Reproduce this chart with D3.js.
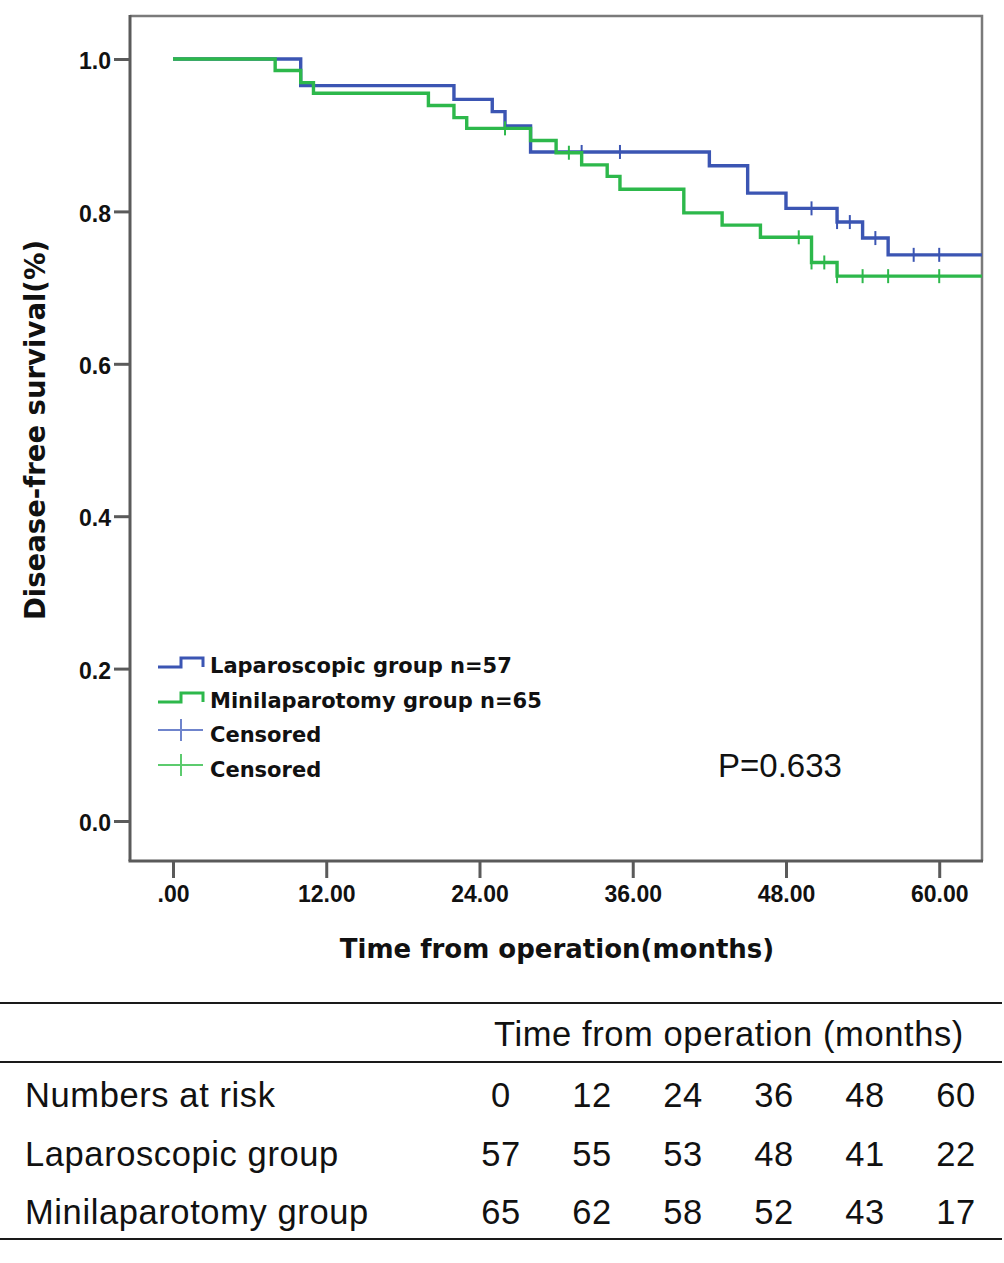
<!DOCTYPE html>
<html>
<head>
<meta charset="utf-8">
<script src="https://cdn.jsdelivr.net/npm/d3@7"></script>
<style>
  body { margin: 0; background: #fff; }
  svg { display: block; }
</style>
</head>
<body>
<div id="chart"></div>
<script>
// survival curves: [month, survival]
const lapSteps = [[0, 1], [10, 0.965], [22, 0.947], [25, 0.931], [26, 0.912], [28, 0.878],
  [42, 0.860], [45, 0.824], [48, 0.804], [52, 0.786], [54, 0.765], [56, 0.743]];
const lapCensored = [[32, 0.878], [35, 0.878], [50, 0.804], [52, 0.786], [53, 0.786],
  [55, 0.765], [58, 0.743], [60, 0.743]];

const miniSteps = [[0, 1], [8, 0.985], [10, 0.969], [11, 0.955], [20, 0.939], [22, 0.923],
  [23, 0.909], [28, 0.893], [30, 0.877], [32, 0.861], [34, 0.846], [35, 0.829],
  [40, 0.798], [43, 0.782], [46, 0.766], [50, 0.733], [52, 0.715]];
const miniCensored = [[26, 0.909], [31, 0.877], [49, 0.766], [50, 0.733], [51, 0.733],
  [52, 0.715], [54, 0.715], [56, 0.715], [60, 0.715]];

const xTickValues = [0, 12, 24, 36, 48, 60];
const xTickLabels = [".00", "12.00", "24.00", "36.00", "48.00", "60.00"];
const yTickValues = [0, 0.2, 0.4, 0.6, 0.8, 1.0];
const yTickLabels = ["0.0", "0.2", "0.4", "0.6", "0.8", "1.0"];

const legendLabels = ["Laparoscopic group n=57", "Minilaparotomy group n=65", "Censored", "Censored"];

// numbers at risk table
const riskTimes = ["0", "12", "24", "36", "48", "60"];
const riskGroups = ["Laparoscopic group", "Minilaparotomy group"];
const riskLap = [57, 55, 53, 48, 41, 22];
const riskMini = [65, 62, 58, 52, 43, 17];

const width = 1004, height = 1263;
const blue = "#3b55b3", green = "#2db84b";
const blueLight = "#6f84cc", greenLight = "#5ccb6e";

const svg = d3.select("#chart").append("svg")
  .attr("width", width)
  .attr("height", height);

const frame = {left: 130, right: 982, top: 16, bottom: 861};

const x = d3.scaleLinear().domain([0, 63.35]).range([173, frame.right]);
const y = d3.scaleLinear().domain([0, 1]).range([821, 59]);

// plot frame (top / right)
svg.append("path")
  .attr("d", `M${frame.left},${frame.top}H${frame.right}V${frame.bottom}`)
  .attr("fill", "none")
  .attr("stroke", "#7a7a7a")
  .attr("stroke-width", 2.5);

// y axis
const yAxis = svg.append("g")
  .attr("transform", `translate(${frame.left},0)`)
  .call(d3.axisLeft(y).tickValues(yTickValues)
    .tickFormat((d, i) => yTickLabels[i]).tickSize(16).tickPadding(3));
yAxis.select(".domain").remove();
yAxis.append("line")
  .attr("x1", 0).attr("x2", 0).attr("y1", frame.top - 1).attr("y2", frame.bottom)
  .attr("stroke", "#5a5a5a").attr("stroke-width", 3);
yAxis.selectAll(".tick line").attr("stroke", "#5a5a5a").attr("stroke-width", 3);
yAxis.selectAll(".tick text")
  .attr("dy", "0.42em")
  .style("font-family", "'Liberation Sans', Arial, sans-serif")
  .style("font-weight", "bold")
  .style("font-size", "23px")
  .attr("fill", "#111");

// x axis
const xAxis = svg.append("g")
  .attr("transform", `translate(0,${frame.bottom})`)
  .call(d3.axisBottom(x).tickValues(xTickValues)
    .tickFormat((d, i) => xTickLabels[i]).tickSize(17).tickPadding(8));
xAxis.select(".domain").remove();
xAxis.append("line")
  .attr("x1", frame.left - 1.5).attr("x2", frame.right + 1).attr("y1", 0).attr("y2", 0)
  .attr("stroke", "#5a5a5a").attr("stroke-width", 3);
xAxis.selectAll(".tick line").attr("stroke", "#5a5a5a").attr("stroke-width", 3);
xAxis.selectAll(".tick text")
  .style("font-family", "'Liberation Sans', Arial, sans-serif")
  .style("font-weight", "bold")
  .style("font-size", "23px")
  .attr("fill", "#111");

// axis titles
svg.append("text")
  .attr("x", 557).attr("y", 958)
  .attr("text-anchor", "middle")
  .style("font-family", "'DejaVu Sans', Verdana, sans-serif")
  .style("font-weight", "bold")
  .style("font-size", "26px")
  .attr("fill", "#111")
  .text("Time from operation(months)");

svg.append("text")
  .attr("transform", "translate(45,430) rotate(-90)")
  .attr("text-anchor", "middle")
  .style("font-family", "'DejaVu Sans', Verdana, sans-serif")
  .style("font-weight", "bold")
  .style("font-size", "27.5px")
  .attr("fill", "#111")
  .text("Disease-free survival(%)");

// curves
const line = d3.line()
  .x(d => x(d[0]))
  .y(d => y(d[1]))
  .curve(d3.curveStepAfter);

const xEnd = x.domain()[1];
const groups = [
  {steps: lapSteps, censored: lapCensored, color: blue},
  {steps: miniSteps, censored: miniCensored, color: green}
];

groups.forEach(g => {
  const pts = g.steps.concat([[xEnd, g.steps[g.steps.length - 1][1]]]);
  svg.append("path")
    .datum(pts)
    .attr("fill", "none")
    .attr("stroke", g.color)
    .attr("stroke-width", 3.4)
    .attr("d", line);

  svg.append("g")
    .selectAll("line")
    .data(g.censored)
    .join("line")
    .attr("x1", d => x(d[0])).attr("x2", d => x(d[0]))
    .attr("y1", d => y(d[1]) - 7).attr("y2", d => y(d[1]) + 7)
    .attr("stroke", g.color)
    .attr("stroke-width", 2);
});

// legend
const legendBase = [673, 708, 742, 777];
const legendColors = [blue, green, blueLight, greenLight];
const legend = svg.append("g");

legendLabels.forEach((label, i) => {
  const b = legendBase[i];
  if (i < 2) {
    legend.append("path")
      .attr("d", `M158,${b - 6}H181V${b - 15}H203V${b - 6}`)
      .attr("fill", "none")
      .attr("stroke", legendColors[i])
      .attr("stroke-width", 3);
  } else {
    legend.append("path")
      .attr("d", `M158,${b - 12}H203M181,${b - 23}V${b - 1}`)
      .attr("fill", "none")
      .attr("stroke", legendColors[i])
      .attr("stroke-width", 2);
  }
  legend.append("text")
    .attr("x", 210).attr("y", b)
    .style("font-family", "'DejaVu Sans', Verdana, sans-serif")
    .style("font-weight", "bold")
    .style("font-size", "21px")
    .attr("fill", "#111")
    .text(label);
});

svg.append("text")
  .attr("x", 718).attr("y", 777)
  .style("font-family", "'Liberation Sans', Arial, sans-serif")
  .style("font-size", "33px")
  .attr("fill", "#111")
  .text("P=0.633");

// numbers at risk table
const tableFont = "'Liberation Sans', Arial, Helvetica, sans-serif";
const colX = d3.scalePoint().domain(riskTimes).range([501, 956]);

[1003, 1062, 1239].forEach(ly => {
  svg.append("line")
    .attr("x1", 0).attr("x2", 1002)
    .attr("y1", ly).attr("y2", ly)
    .attr("stroke", "#1a1a1a")
    .attr("stroke-width", 2);
});

const tableText = (tx, ty, str, anchor) => svg.append("text")
  .attr("x", tx).attr("y", ty)
  .attr("text-anchor", anchor)
  .style("font-family", tableFont)
  .style("font-size", "34.5px")
  .style("letter-spacing", "0.6px")
  .attr("fill", "#111")
  .text(str);

tableText(729, 1046, "Time from operation (months)", "middle");

const rowY = [1107, 1166, 1224];
tableText(25, rowY[0], "Numbers at risk", "start");
riskGroups.forEach((g, i) => tableText(25, rowY[i + 1], g, "start"));

riskTimes.forEach(t => tableText(colX(t), rowY[0], t, "middle"));
riskLap.forEach((v, i) => tableText(colX(riskTimes[i]), rowY[1], v, "middle"));
riskMini.forEach((v, i) => tableText(colX(riskTimes[i]), rowY[2], v, "middle"));
</script>
</body>
</html>
